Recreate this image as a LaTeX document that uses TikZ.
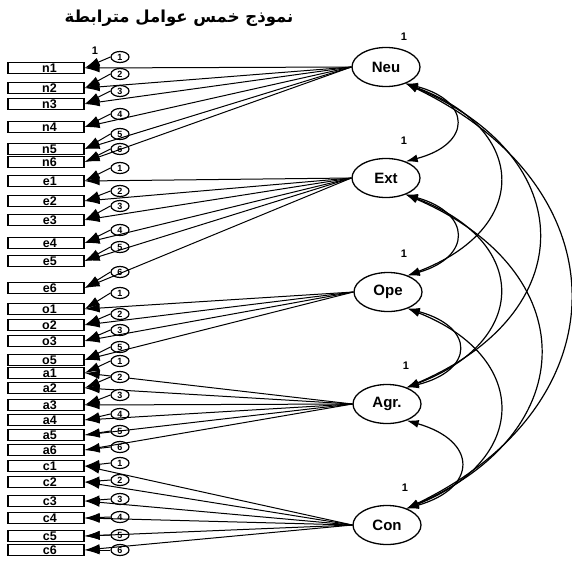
\documentclass[tikz,border=0pt]{standalone}
\usepackage{fontspec}
\setmainfont{Liberation Sans}
\newfontfamily\arabicfont[Script=Arabic]{DejaVu Sans}
\TeXXeTstate=1
\usetikzlibrary{arrows.meta,shapes.geometric}
\begin{document}
\begin{tikzpicture}[x=1pt,y=-1pt,
  ind/.style={draw, line width=1.4pt, minimum width=76pt, minimum height=11pt, inner sep=0pt, fill=white},
  lab/.style={inner sep=0pt, font=\bfseries\fontsize{12.5}{12.5}\selectfont},
  fac/.style={ellipse, draw, line width=1.3pt, minimum width=68pt, minimum height=39pt, inner sep=0pt, fill=white, font=\bfseries\fontsize{15}{15}\selectfont},
  err/.style={ellipse, draw, line width=1.2pt, minimum width=18pt, minimum height=11pt, inner sep=0pt, fill=white, font=\bfseries\fontsize{9}{9}\selectfont},
  load/.style={-{Latex[length=15pt,width=9pt]}, line width=1pt},
  cov/.style={{Latex[length=12pt,width=8pt]}-{Latex[length=12pt,width=8pt]}, line width=1.2pt},
  one/.style={inner sep=0pt, font=\bfseries\fontsize{11}{11}\selectfont}]
\useasboundingbox (0,0) rectangle (572,560);

\node[font=\arabicfont\bfseries\fontsize{16.5}{16.5}\selectfont] (title) at (179,18) {\beginR نموذج خمس عوامل مترابطة\endR};

\node[fac] (Neu) at (386,67) {Neu};
\node[fac] (Ext) at (386,178) {Ext};
\node[fac] (Ope) at (388,292) {Ope};
\node[fac] (Agr) at (387,404) {Agr.};
\node[fac] (Con) at (387,525) {Con};

\node[one] (oNeu) at (404,37) {1};
\node[one] (oExt) at (404,141) {1};
\node[one] (oOpe) at (404,254) {1};
\node[one] (oAgr) at (406,366) {1};
\node[one] (oCon) at (405,488) {1};

\node[one] (l1) at (95,51) {1};

\foreach \y/\lab/\dig/\off/\f [count=\i] in {
  68/n1/1/11/Neu, 88/n2/2/14/Neu, 104/n3/3/13/Neu, 127/n4/4/13/Neu, 149/n5/5/15/Neu, 162/n6/6/13/Neu,
  181/e1/1/13/Ext, 201/e2/2/10/Ext, 220/e3/3/14/Ext, 243/e4/4/13/Ext, 261/e5/5/14/Ext, 288/e6/6/16/Ext,
  309/o1/1/16/Ope, 325/o2/2/11/Ope, 341/o3/3/11/Ope, 360/o5/5/13/Ope,
  373/a1/1/12/Agr, 388/a2/2/11/Agr, 405/a3/3/10/Agr, 420/a4/4/6/Agr, 435/a5/5/4/Agr, 450/a6/6/3/Agr,
  466/c1/1/3/Con, 482/c2/2/2/Con, 501/c3/3/2/Con, 518/c4/4/1/Con, 536/c5/5/1/Con, 550/c6/6/0/Con}
{
  \node[ind] (r\i) at (46,\y) {};
  \node[lab, anchor=east] (t\i) at (57,\y) {\lab};
  \node[err] (u\i) at (120,\y-\off) {\dig};
  \draw[load] (u\i.west) -- (r\i.east);
  \draw[load] (\f.west) -- (r\i.east);
}

\draw[cov] (Neu.-40) .. controls (472,101) and (472,144) .. (Ext.40);
\draw[cov] (Neu.-40) .. controls (530,130) and (530,229) .. (Ope.40);
\draw[cov] (Neu.-40) .. controls (582,158) and (582,313) .. (Agr.40);
\draw[cov] (Neu.-40) .. controls (624,188) and (624,404) .. (Con.40);
\draw[cov] (Ext.-40) .. controls (472,213) and (472,257) .. (Ope.40);
\draw[cov] (Ext.-40) .. controls (530,241) and (530,341) .. (Agr.40);
\draw[cov] (Ext.-40) .. controls (584,271) and (584,432) .. (Con.40);
\draw[cov] (Ope.-40) .. controls (475,327) and (475,370) .. (Agr.40);
\draw[cov] (Ope.-40) .. controls (530,357) and (530,460) .. (Con.40);
\draw[cov] (Agr.-40) .. controls (478,441) and (478,488) .. (Con.40);
\end{tikzpicture}
\end{document}
